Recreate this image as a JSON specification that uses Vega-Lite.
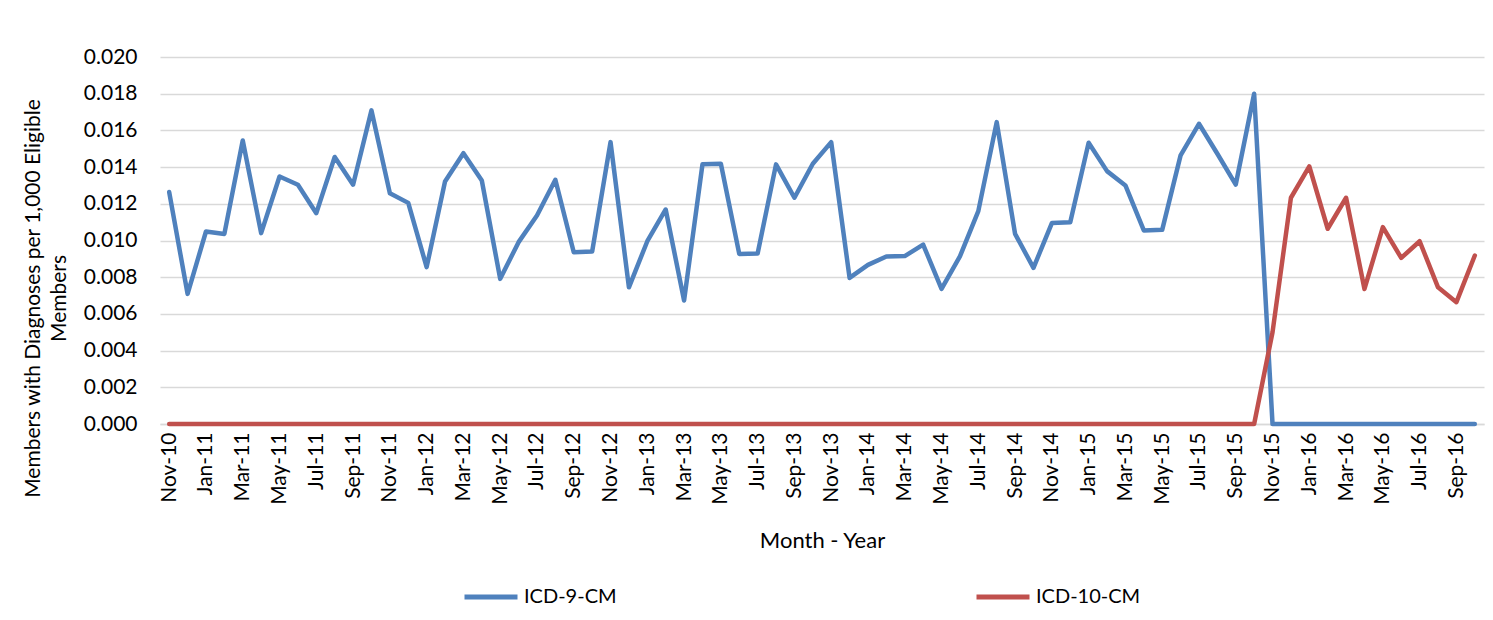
{
  "$schema": "https://vega.github.io/schema/vega-lite/v6.json",
  "autosize": "none",
  "width": 1324,
  "height": 367,
  "padding": {"left": 160, "top": 57, "right": 9, "bottom": 196},
  "background": "white",
  "data": {
    "values": [
      {"month": "Nov-10", "ICD-9-CM": 0.01264, "ICD-10-CM": 0},
      {"month": "Dec-10", "ICD-9-CM": 0.00709, "ICD-10-CM": 0},
      {"month": "Jan-11", "ICD-9-CM": 0.01049, "ICD-10-CM": 0},
      {"month": "Feb-11", "ICD-9-CM": 0.01036, "ICD-10-CM": 0},
      {"month": "Mar-11", "ICD-9-CM": 0.01545, "ICD-10-CM": 0},
      {"month": "Apr-11", "ICD-9-CM": 0.01040, "ICD-10-CM": 0},
      {"month": "May-11", "ICD-9-CM": 0.01349, "ICD-10-CM": 0},
      {"month": "Jun-11", "ICD-9-CM": 0.01304, "ICD-10-CM": 0},
      {"month": "Jul-11", "ICD-9-CM": 0.01149, "ICD-10-CM": 0},
      {"month": "Aug-11", "ICD-9-CM": 0.01455, "ICD-10-CM": 0},
      {"month": "Sep-11", "ICD-9-CM": 0.01304, "ICD-10-CM": 0},
      {"month": "Oct-11", "ICD-9-CM": 0.01709, "ICD-10-CM": 0},
      {"month": "Nov-11", "ICD-9-CM": 0.01258, "ICD-10-CM": 0},
      {"month": "Dec-11", "ICD-9-CM": 0.01205, "ICD-10-CM": 0},
      {"month": "Jan-12", "ICD-9-CM": 0.00855, "ICD-10-CM": 0},
      {"month": "Feb-12", "ICD-9-CM": 0.01322, "ICD-10-CM": 0},
      {"month": "Mar-12", "ICD-9-CM": 0.01476, "ICD-10-CM": 0},
      {"month": "Apr-12", "ICD-9-CM": 0.01327, "ICD-10-CM": 0},
      {"month": "May-12", "ICD-9-CM": 0.00791, "ICD-10-CM": 0},
      {"month": "Jun-12", "ICD-9-CM": 0.00991, "ICD-10-CM": 0},
      {"month": "Jul-12", "ICD-9-CM": 0.01136, "ICD-10-CM": 0},
      {"month": "Aug-12", "ICD-9-CM": 0.01331, "ICD-10-CM": 0},
      {"month": "Sep-12", "ICD-9-CM": 0.00936, "ICD-10-CM": 0},
      {"month": "Oct-12", "ICD-9-CM": 0.00940, "ICD-10-CM": 0},
      {"month": "Nov-12", "ICD-9-CM": 0.01536, "ICD-10-CM": 0},
      {"month": "Dec-12", "ICD-9-CM": 0.00745, "ICD-10-CM": 0},
      {"month": "Jan-13", "ICD-9-CM": 0.00996, "ICD-10-CM": 0},
      {"month": "Feb-13", "ICD-9-CM": 0.01169, "ICD-10-CM": 0},
      {"month": "Mar-13", "ICD-9-CM": 0.00673, "ICD-10-CM": 0},
      {"month": "Apr-13", "ICD-9-CM": 0.01415, "ICD-10-CM": 0},
      {"month": "May-13", "ICD-9-CM": 0.01418, "ICD-10-CM": 0},
      {"month": "Jun-13", "ICD-9-CM": 0.00927, "ICD-10-CM": 0},
      {"month": "Jul-13", "ICD-9-CM": 0.00929, "ICD-10-CM": 0},
      {"month": "Aug-13", "ICD-9-CM": 0.01415, "ICD-10-CM": 0},
      {"month": "Sep-13", "ICD-9-CM": 0.01233, "ICD-10-CM": 0},
      {"month": "Oct-13", "ICD-9-CM": 0.01418, "ICD-10-CM": 0},
      {"month": "Nov-13", "ICD-9-CM": 0.01536, "ICD-10-CM": 0},
      {"month": "Dec-13", "ICD-9-CM": 0.00796, "ICD-10-CM": 0},
      {"month": "Jan-14", "ICD-9-CM": 0.00867, "ICD-10-CM": 0},
      {"month": "Feb-14", "ICD-9-CM": 0.00913, "ICD-10-CM": 0},
      {"month": "Mar-14", "ICD-9-CM": 0.00915, "ICD-10-CM": 0},
      {"month": "Apr-14", "ICD-9-CM": 0.00978, "ICD-10-CM": 0},
      {"month": "May-14", "ICD-9-CM": 0.00736, "ICD-10-CM": 0},
      {"month": "Jun-14", "ICD-9-CM": 0.00913, "ICD-10-CM": 0},
      {"month": "Jul-14", "ICD-9-CM": 0.01160, "ICD-10-CM": 0},
      {"month": "Aug-14", "ICD-9-CM": 0.01645, "ICD-10-CM": 0},
      {"month": "Sep-14", "ICD-9-CM": 0.01036, "ICD-10-CM": 0},
      {"month": "Oct-14", "ICD-9-CM": 0.00851, "ICD-10-CM": 0},
      {"month": "Nov-14", "ICD-9-CM": 0.01095, "ICD-10-CM": 0},
      {"month": "Dec-14", "ICD-9-CM": 0.01100, "ICD-10-CM": 0},
      {"month": "Jan-15", "ICD-9-CM": 0.01533, "ICD-10-CM": 0},
      {"month": "Feb-15", "ICD-9-CM": 0.01378, "ICD-10-CM": 0},
      {"month": "Mar-15", "ICD-9-CM": 0.01300, "ICD-10-CM": 0},
      {"month": "Apr-15", "ICD-9-CM": 0.01055, "ICD-10-CM": 0},
      {"month": "May-15", "ICD-9-CM": 0.01058, "ICD-10-CM": 0},
      {"month": "Jun-15", "ICD-9-CM": 0.01464, "ICD-10-CM": 0},
      {"month": "Jul-15", "ICD-9-CM": 0.01636, "ICD-10-CM": 0},
      {"month": "Aug-15", "ICD-9-CM": 0.01473, "ICD-10-CM": 0},
      {"month": "Sep-15", "ICD-9-CM": 0.01305, "ICD-10-CM": 0},
      {"month": "Oct-15", "ICD-9-CM": 0.01800, "ICD-10-CM": 0},
      {"month": "Nov-15", "ICD-9-CM": 0, "ICD-10-CM": 0.00500},
      {"month": "Dec-15", "ICD-9-CM": 0, "ICD-10-CM": 0.01233},
      {"month": "Jan-16", "ICD-9-CM": 0, "ICD-10-CM": 0.01404},
      {"month": "Feb-16", "ICD-9-CM": 0, "ICD-10-CM": 0.01064},
      {"month": "Mar-16", "ICD-9-CM": 0, "ICD-10-CM": 0.01233},
      {"month": "Apr-16", "ICD-9-CM": 0, "ICD-10-CM": 0.00736},
      {"month": "May-16", "ICD-9-CM": 0, "ICD-10-CM": 0.01073},
      {"month": "Jun-16", "ICD-9-CM": 0, "ICD-10-CM": 0.00905},
      {"month": "Jul-16", "ICD-9-CM": 0, "ICD-10-CM": 0.00996},
      {"month": "Aug-16", "ICD-9-CM": 0, "ICD-10-CM": 0.00745},
      {"month": "Sep-16", "ICD-9-CM": 0, "ICD-10-CM": 0.00664},
      {"month": "Oct-16", "ICD-9-CM": 0, "ICD-10-CM": 0.00918}
    ]
  },
  "transform": [
    {"fold": ["ICD-9-CM", "ICD-10-CM"], "as": ["series", "value"]}
  ],
  "mark": {"type": "line", "strokeWidth": 4.5, "strokeJoin": "round", "strokeCap": "round"},
  "encoding": {
    "x": {
      "field": "month",
      "type": "nominal",
      "sort": null,
      "scale": {"type": "point", "padding": 0.5},
      "axis": {
        "title": "Month - Year",
        "titleFont": "Lato",
        "titleFontSize": 22,
        "titleFontWeight": "normal",
        "titleColor": "#000000",
        "titlePadding": 26,
        "labelAngle": -90,
        "labelFont": "Lato",
        "labelFontSize": 21,
        "labelColor": "#000000",
        "labelPadding": 8,
        "ticks": false,
        "domainColor": "#d9d9d9",
        "domainWidth": 1.5,
        "grid": false,
        "labelOverlap": false,
        "values": ["Nov-10","Jan-11","Mar-11","May-11","Jul-11","Sep-11","Nov-11","Jan-12","Mar-12","May-12","Jul-12","Sep-12","Nov-12","Jan-13","Mar-13","May-13","Jul-13","Sep-13","Nov-13","Jan-14","Mar-14","May-14","Jul-14","Sep-14","Nov-14","Jan-15","Mar-15","May-15","Jul-15","Sep-15","Nov-15","Jan-16","Mar-16","May-16","Jul-16","Sep-16"]
      }
    },
    "y": {
      "field": "value",
      "type": "quantitative",
      "scale": {"domain": [0, 0.02], "nice": false, "zero": true},
      "axis": {
        "title": ["Members with Diagnoses per 1,000 Eligible", "Members"],
        "titleFont": "Lato",
        "titleFontSize": 21,
        "titleFontWeight": "normal",
        "titleColor": "#000000",
        "titleLineHeight": 26,
        "titlePadding": 14,
        "titleY": 241,
        "format": ".3f",
        "values": [0, 0.002, 0.004, 0.006, 0.008, 0.01, 0.012, 0.014, 0.016, 0.018, 0.02],
        "labelFont": "Lato",
        "labelFontSize": 21,
        "labelColor": "#000000",
        "labelPadding": 23,
        "ticks": false,
        "domain": false,
        "gridColor": "#d9d9d9",
        "gridWidth": 1.5
      }
    },
    "color": {
      "field": "series",
      "type": "nominal",
      "scale": {"domain": ["ICD-9-CM", "ICD-10-CM"], "range": ["#4F81BD", "#C0504D"]},
      "legend": {
        "title": null,
        "orient": "none",
        "direction": "horizontal",
        "legendX": 302,
        "legendY": 511,
        "symbolType": "stroke",
        "symbolSize": 2809,
        "symbolStrokeWidth": 5,
        "labelFont": "Lato",
        "labelFontSize": 20,
        "labelColor": "#000000",
        "labelOffset": 4,
        "columnPadding": 349
      }
    }
  },
  "config": {
    "view": {"stroke": null}
  }
}
